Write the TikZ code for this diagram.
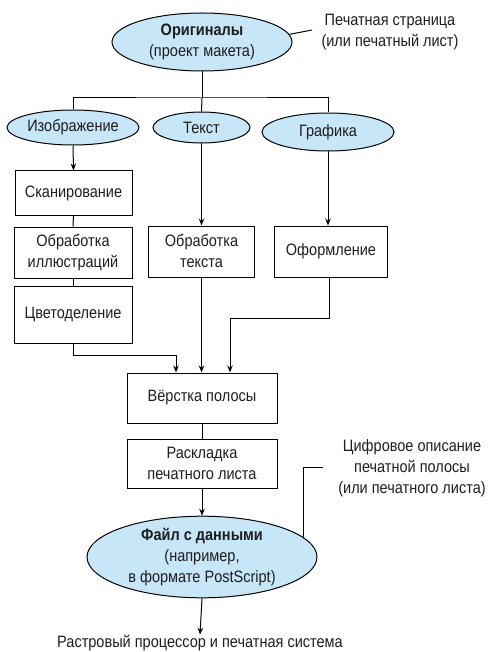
\documentclass[tikz,border=0pt]{standalone}
\usepackage{fontspec}
\setmainfont{Liberation Sans}[FakeStretch=0.88]
\usetikzlibrary{shapes.geometric,arrows.meta}
\definecolor{ovalfill}{RGB}{199,230,248}
\definecolor{txt}{RGB}{30,30,30}
\tikzset{
  oval/.style={ellipse,draw,fill=ovalfill,inner sep=0pt,align=center,text=txt},
  box/.style={rectangle,draw,inner sep=0pt,align=center,text=txt},
  lbl/.style={inner sep=0pt,align=center,text=txt},
  con/.style={line width=1pt},
  arr/.style={con,-{Stealth[length=7pt,width=5.5pt]}},
}
\begin{document}
\begin{tikzpicture}[x=1pt,y=-1pt,line width=1pt,
  every node/.append style={font=\fontsize{16.5}{21}\selectfont}]
\useasboundingbox (0,0) rectangle (497,652);
% top
\node[oval,minimum width=180,minimum height=58] (orig) at (202,42) {\textbf{Оригиналы}\\(проект макета)};
\node[lbl] (pg) at (390,32.5) {Печатная страница\\(или печатный лист)};
\coordinate (pgc) at (312,30);
\draw[con] (orig.5) -- (pgc);
% second row ellipses
\node[oval,minimum width=132,minimum height=35] (img) at (73,127.5) {Изображение};
\node[oval,minimum width=97,minimum height=31] (txt) at (201.5,127.5) {Текст};
\node[oval,minimum width=132,minimum height=38] (gr) at (328,132) {Графика};
\coordinate (bar) at (202,98);
\draw[con] (orig.south) -- (bar);
\draw[con] (img.north) |- (bar) -| (gr.north);
\draw[con] (bar) -- (txt.north);
% left column
\node[box,minimum width=117,minimum height=44] (scan) at (73.5,193) {Сканирование};
\node[box,minimum width=118,minimum height=51] (ill) at (73,252.5) {Обработка\\иллюстраций};
\node[box,minimum width=118,minimum height=57] (sep) at (73,314.5) {Цветоделение};
\draw[arr] (img.south) -- (scan.north);
\draw[con] (scan.south) -- (ill.north);
\draw[con] (ill.south) -- (sep.north);
% middle & right
\node[box,minimum width=106,minimum height=51] (tproc) at (201.5,251.5) {Обработка\\текста};
\node[box,minimum width=113,minimum height=51] (des) at (331,251.5) {Оформление};
\draw[arr] (txt.south) -- (txt.south |- tproc.north);
\draw[arr] (gr.south) -- (gr.south |- des.north);
% layout
\node[box,minimum width=150,minimum height=50] (lay) at (202,398) {Вёрстка полосы};
\node[box,minimum width=150,minimum height=49] (imp) at (202,463.5) {Раскладка\\печатного листа};
\coordinate (s1) at (176,355);
\coordinate (d1) at (230,318);
\draw[arr] (sep.south) |- (s1) -- (s1 |- lay.north);
\draw[arr] (tproc.south) -- (tproc.south |- lay.north);
\draw[arr] (des.south -| 329,0) |- (d1) -- (d1 |- lay.north);
\draw[con] (lay.south) -- (imp.north);
% file
\node[oval,minimum width=230,minimum height=80] (file) at (202,557) {\textbf{Файл с данными}\\(например,\\в формате PostScript)};
\draw[arr] (imp.south) -- (file.north);
\node[lbl] (dig) at (412,468.5) {Цифровое описание\\печатной полосы\\(или печатного листа)};
\coordinate (dc) at (323,467);
\draw[con] (dc) -- (dc -| file.11.3) -- (file.11.3);
\node[lbl] (rip) at (200,643) {Растровый процессор и печатная система};
\draw[arr] (file.south) -- (rip.north);
\end{tikzpicture}
\end{document}
